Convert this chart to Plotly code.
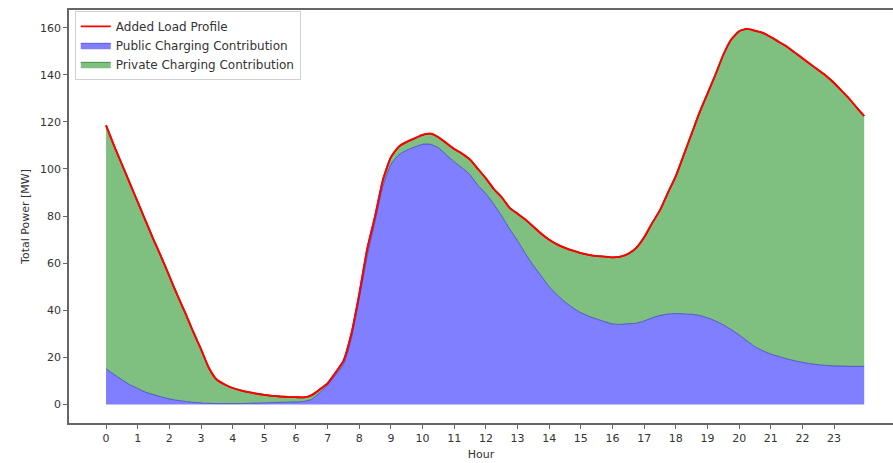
import plotly.graph_objects as go

hours = [i * 0.25 for i in range(96)] + [23.95]

added_load = [
    118.5, 110, 102, 94, 86, 78, 70, 62.5, 54.5, 46.5, 39, 31,
    23.5, 15.5, 10.5, 8.5, 7, 6, 5.2, 4.6, 4.1, 3.7, 3.4, 3.2,
    3.1, 3.0, 4.0, 6.4, 9.0, 13.5, 18.5, 30, 47, 66, 80, 95.5,
    105, 109.5, 111.5, 113, 114.5, 115, 113.5, 111, 108.5, 106.5, 104, 100,
    96, 91.5, 88, 83.5, 81, 78.5, 75.5, 72.5, 70, 68, 66.5, 65.3,
    64.3, 63.5, 63, 62.8, 62.5, 62.8, 64, 66.5, 71, 77, 82.5, 90,
    97, 106, 115, 124, 132, 140, 148.5, 155, 158.5, 159.5, 158.7, 157.8,
    156, 154, 152, 149.5, 147, 144.5, 142, 139.5, 136.5, 133, 129.5, 125.5,
    122.5,
]

public = [
    15.2, 12.8, 10.5, 8.4, 6.8, 5.2, 4.2, 3.2, 2.4, 1.8, 1.3, 0.9,
    0.7, 0.5, 0.4, 0.4, 0.4, 0.4, 0.5, 0.6, 0.7, 0.8, 0.9, 1.0,
    1.1, 1.3, 2.2, 5.0, 8.2, 12.5, 17, 28, 45, 63, 78, 93,
    102, 106, 108, 109.3, 110.5, 110.5, 109, 106, 103, 100.5, 97.5, 93,
    89.5, 85, 80, 74.5, 69.5, 64, 59, 54.5, 50, 46.5, 43.5, 41,
    39, 37.5, 36.3, 35.2, 34.2, 34, 34.3, 34.5, 35.5, 36.8, 37.8, 38.4,
    38.6, 38.5, 38.3, 37.8, 36.8, 35.5, 33.8, 31.8, 29.5, 27, 24.5, 22.8,
    21.4, 20.4, 19.4, 18.6, 17.9, 17.3, 16.9, 16.6, 16.4, 16.3, 16.2, 16.2,
    16.2,
]

private = [round(t - p, 2) for t, p in zip(added_load, public)]

tick_hours = list(range(24))

fig = go.Figure()
fig.add_trace(go.Scatter(
    x=hours, y=added_load, name="Added Load Profile", mode="lines",
    line=dict(color="red", width=1.8, shape="spline", smoothing=0.5),
    showlegend=True,
))
fig.add_trace(go.Scatter(
    x=hours, y=public, name="Public Charging Contribution",
    stackgroup="one", mode="lines",
    line=dict(color="rgba(40,40,200,0.6)", width=1, shape="spline", smoothing=0.5),
    fillcolor="rgba(0,0,255,0.5)",
))
fig.add_trace(go.Scatter(
    x=hours, y=private, name="Private Charging Contribution",
    stackgroup="one", mode="lines",
    line=dict(color="rgba(0,100,0,0.6)", width=1, shape="spline", smoothing=0.5),
    fillcolor="rgba(0,128,0,0.5)",
))
# redraw the load line on top of the fills (legend entry already present)
fig.add_trace(go.Scatter(
    x=hours, y=added_load, name="Added Load Profile", mode="lines",
    line=dict(color="red", width=1.8, shape="spline", smoothing=0.5),
    showlegend=False, hoverinfo="skip",
))

axis_font = dict(family="DejaVu Sans", size=11, color="#333333")
fig.update_layout(
    width=893, height=463,
    margin=dict(l=69, r=0, t=10, b=40),
    paper_bgcolor="white", plot_bgcolor="white",
    font=dict(family="DejaVu Sans", size=11, color="#333333"),
    showlegend=True,
    legend=dict(
        x=0.007, y=0.998, xanchor="left", yanchor="top",
        traceorder="normal",
        bgcolor="rgba(255,255,255,0.85)", bordercolor="#d0d0d0", borderwidth=1,
        font=dict(family="DejaVu Sans", size=12, color="#333333"),
        tracegroupgap=0, itemwidth=30,
    ),
    xaxis=dict(
        range=[-1.17, 24.86], tickvals=tick_hours,
        ticktext=[str(h) for h in tick_hours],
        showgrid=False, zeroline=False,
        showline=True, linecolor="#666666", linewidth=1.5, mirror=True,
        ticks="outside", ticklen=4, tickcolor="#666666",
        tickfont=axis_font,
        title=dict(text="Hour", font=axis_font, standoff=6),
    ),
    yaxis=dict(
        range=[-7.86, 167.5], tickvals=[0, 20, 40, 60, 80, 100, 120, 140, 160],
        showgrid=False, zeroline=False,
        showline=True, linecolor="#666666", linewidth=1.5, mirror=False,
        ticks="outside", ticklen=4, tickcolor="#666666",
        tickfont=axis_font,
        title=dict(text="Total Power [MW]", font=axis_font, standoff=8),
    ),
)

fig.write_html("out.html")
